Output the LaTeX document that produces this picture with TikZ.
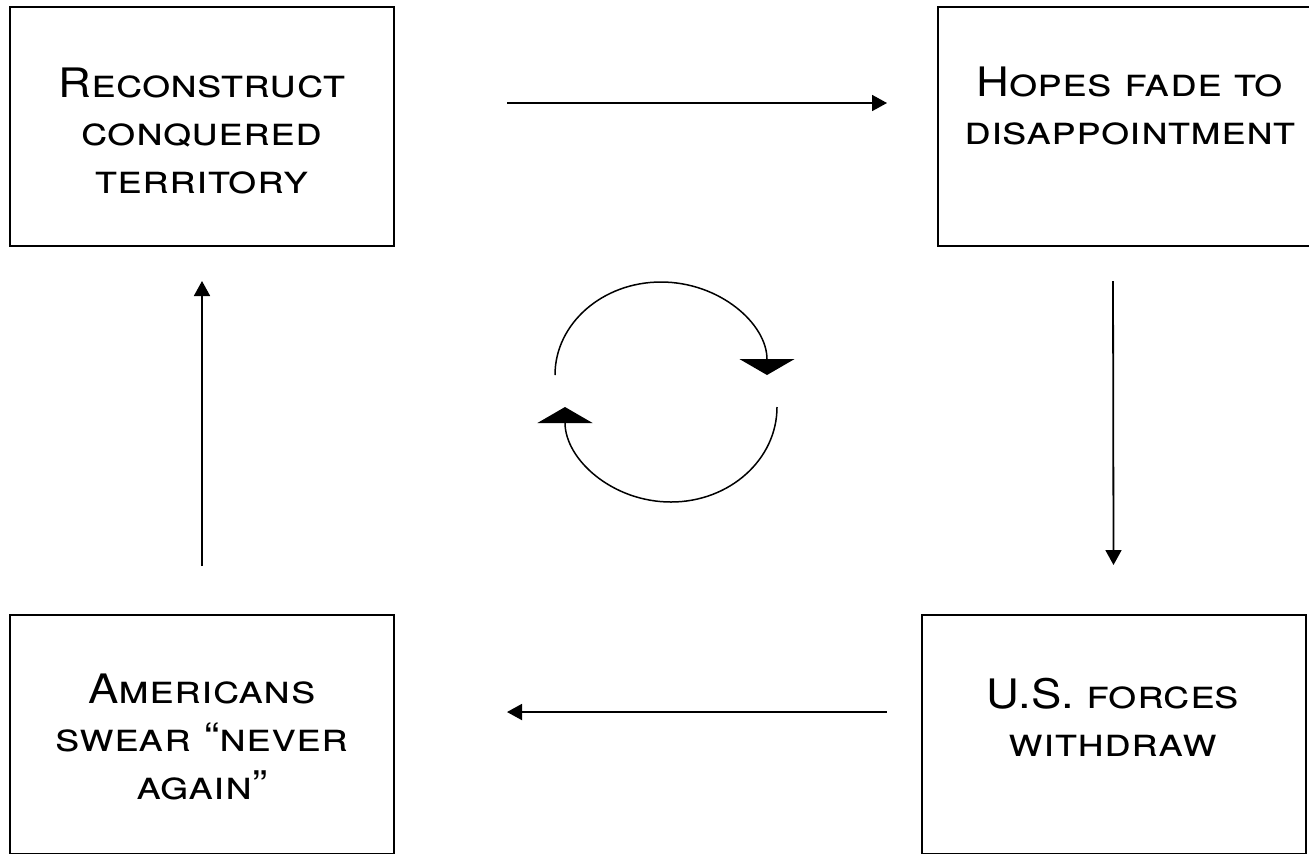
\documentclass[tikz,border=0pt]{standalone}
\usepackage{fontspec}
\setmainfont{TeX Gyre Heros}[FakeStretch=1.12]
\usetikzlibrary{arrows.meta}
\begin{document}
\begin{tikzpicture}[x=0.5pt,y=-0.5pt,
  box/.style={draw, line width=1pt, minimum width=192pt, minimum height=119.5pt, inner sep=0pt},
  txt/.style={align=center, inner sep=0pt, font=\fontsize{20.3}{24}\selectfont\scshape},
  arr/.style={line width=0.9pt, -{Triangle[length=7.5pt,width=8pt]}},
  cyc/.style={line width=0.75pt, -{Triangle[length=8pt,width=27.5pt]}}]
\useasboundingbox (0,0) rectangle (1309,853);
\fill[white] (0,0) rectangle (1309,853);
% boxes
\node[box] (tl) at (202,126.5) {};
\node[box] (tr) at (1130,126.5) {};
\node[box] (bl) at (202,734.5) {};
\node[box] (br) at (1113.5,734.5) {};
% texts
\node[txt] (tlt) at (202,131) {Reconstruct\\conquered\\territory};
\node[txt] (trt) at (1130,106) {Hopes fade to\\disappointment};
\node[txt] (blt) at (202,737) {Americans\\swear “never\\again”};
\node[txt] (brt) at (1113,717) {U.S. forces\\withdraw};
% connectors
\draw[arr] ([shift={(112,-23.5)}]tl.east) -- ([shift={(-50,-23.5)}]tr.west);
\draw[arr] ([shift={(-17,34)}]tr.south) -- ([shift={(0,-49)}]br.north);
\draw[arr] ([shift={(-34,-22.5)}]br.west) -- ([shift={(112,-22.5)}]bl.east);
\draw[arr] ([shift={(0,-48)}]bl.north) -- ([shift={(0,34)}]tl.south);
% cycle symbol
\draw[cyc] (555,375) arc[start angle=180,end angle=360,x radius=106,y radius=93];
\draw[cyc] (777,407) arc[start angle=0,end angle=180,x radius=106,y radius=95];
\end{tikzpicture}
\end{document}
